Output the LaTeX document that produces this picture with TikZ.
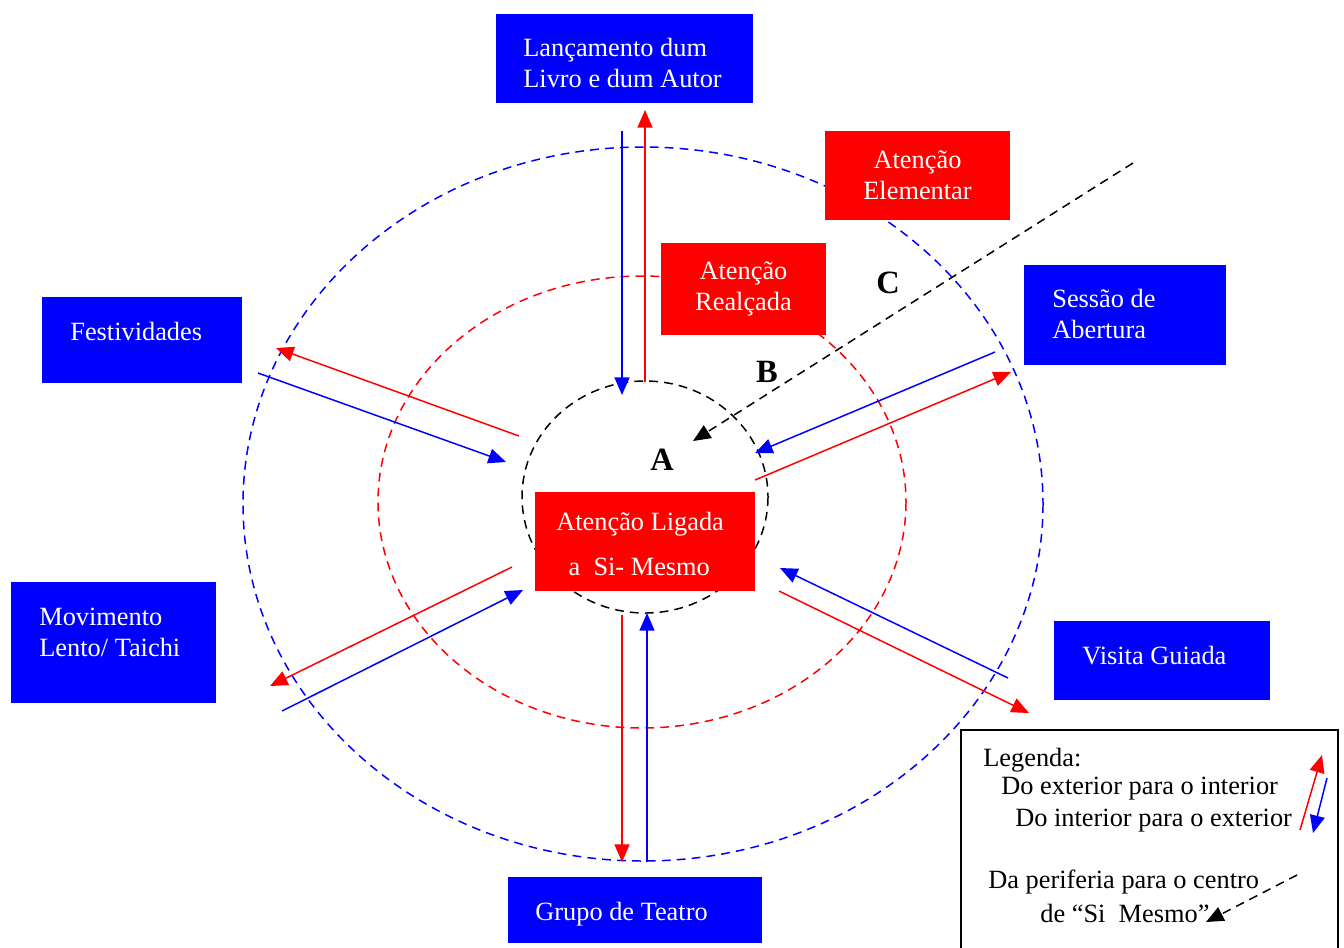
\documentclass[tikz,border=0pt]{standalone}
\usepackage{fontspec}
\setmainfont{Liberation Serif}
\usetikzlibrary{arrows.meta}
\newcommand{\mainfs}{\fontsize{15}{17.6}\selectfont}
\begin{document}
\begin{tikzpicture}[x=0.02cm,y=-0.02cm,
  arr/.style={line width=0.85pt,-{Triangle[length=10pt,width=8.5pt]}},
  rarr/.style={arr,red},
  barr/.style={arr,blue},
  karr/.style={arr,black,dash pattern=on 5pt off 3.5pt},
  ring/.style={line width=0.85pt,dash pattern=on 5pt off 3.5pt},
  bbox/.style={rectangle,fill=blue,inner sep=0pt},
  btxt/.style={anchor=west,inner sep=0pt,align=left,text=white,font=\mainfs},
  rbox/.style={rectangle,fill=red,text=white,inner sep=0pt,align=center,font=\mainfs},
  lbl/.style={font=\fontsize{18.5}{20}\selectfont\bfseries},
  ltxt/.style={anchor=west,inner sep=0pt,font=\mainfs}]
\useasboundingbox (0,0) rectangle (1344,947);

% rings
\draw[ring,blue] (643,504) ellipse [x radius=400, y radius=357];
\draw[ring,red] (642,502) ellipse [x radius=264, y radius=226];
\draw[ring,black] (645,497) ellipse [x radius=123, y radius=116];

% arrow end coordinates
\coordinate (t1) at (622,131); \coordinate (t2) at (622,395);
\coordinate (t3) at (645,382); \coordinate (t4) at (645,110);
\coordinate (s1) at (995,352); \coordinate (s2) at (755,453);
\coordinate (s3) at (755,480); \coordinate (s4) at (1011,372);
\coordinate (f1) at (519,436); \coordinate (f2) at (276,348);
\coordinate (f3) at (258,373); \coordinate (f4) at (506,462);
\coordinate (m1) at (512,567); \coordinate (m2) at (270,686);
\coordinate (m3) at (282,711); \coordinate (m4) at (523,590);
\coordinate (g1) at (622,615); \coordinate (g2) at (622,862);
\coordinate (g3) at (647,862); \coordinate (g4) at (647,613);
\coordinate (v1) at (1008,678); \coordinate (v2) at (780,568);
\coordinate (v3) at (779,591); \coordinate (v4) at (1029,713);
\coordinate (c1) at (1133,163); \coordinate (c2) at (693,441);

\draw[barr] (t1) -- (t2);
\draw[rarr] (t3) -- (t4);
\draw[barr] (s1) -- (s2);
\draw[rarr] (s3) -- (s4);
\draw[rarr] (f1) -- (f2);
\draw[barr] (f3) -- (f4);
\draw[rarr] (m1) -- (m2);
\draw[barr] (m3) -- (m4);
\draw[rarr] (g1) -- (g2);
\draw[barr] (g3) -- (g4);
\draw[barr] (v1) -- (v2);
\draw[rarr] (v3) -- (v4);
\draw[karr] (c1) -- (c2);

% blue boxes and their texts
\node[bbox,minimum width=5.14cm,minimum height=1.78cm] (lanc) at (624.5,58.5) {};
\node[btxt] (lanctxt) at (523,63) {Lançamento dum\\Livro e dum Autor};
\node[bbox,minimum width=4.0cm,minimum height=1.72cm] (fest) at (142,340) {};
\node[btxt] (festtxt) at (70,331) {Festividades};
\node[bbox,minimum width=4.04cm,minimum height=2.0cm] (sess) at (1125,315) {};
\node[btxt] (sesstxt) at (1052,314) {Sessão de\\Abertura};
\node[bbox,minimum width=4.1cm,minimum height=2.42cm] (mov) at (113.5,642.5) {};
\node[btxt] (movtxt) at (39,632) {Movimento\\Lento/ Taichi};
\node[bbox,minimum width=4.32cm,minimum height=1.58cm] (vis) at (1162,660.5) {};
\node[btxt] (vistxt) at (1082,656) {Visita Guiada};
\node[bbox,minimum width=5.08cm,minimum height=1.32cm] (grupo) at (635,910) {};
\node[btxt] (grupotxt) at (535,914) {Grupo de Teatro};

% red boxes
\node[rbox,minimum width=3.7cm,minimum height=1.78cm] (elem) at (917.5,175.5) {Atenção\\Elementar};
\node[rbox,minimum width=3.3cm,minimum height=1.84cm] (real) at (743.5,289) {Atenção\\Realçada};
\node[rbox,minimum width=4.4cm,minimum height=1.98cm] (lig) at (645,541.5) {};
\node[btxt] (ligtxt) at (556,544) {Atenção Ligada\\[8pt]\hspace{7pt}a\ \ Si- Mesmo};

% letters
\node[lbl] (A) at (662,460) {A};
\node[lbl] (B) at (767,372) {B};
\node[lbl] (C) at (888,283) {C};

% legend
\draw[fill=white,line width=1.2pt] (961,730) rectangle (1338,965);
\node[ltxt] (leg0) at (983,760) {Legenda:};
\node[ltxt] (leg1) at (1001,789) {Do exterior para o interior};
\node[ltxt] (leg2) at (1015,821) {Do interior para o exterior};
\node[ltxt] (leg3) at (988,882) {Da periferia para o centro};
\node[ltxt] (leg4) at (1040,913) {de “Si\ \ Mesmo”};
\coordinate (lr1) at (1300,830); \coordinate (lr2) at (1322,755);
\coordinate (lb1) at (1327,778); \coordinate (lb2) at (1313,833);
\coordinate (lk1) at (1297,875); \coordinate (lk2) at (1206,922);
\draw[rarr] (lr1) -- (lr2);
\draw[barr] (lb1) -- (lb2);
\draw[karr] (lk1) -- (lk2);
\end{tikzpicture}
\end{document}
